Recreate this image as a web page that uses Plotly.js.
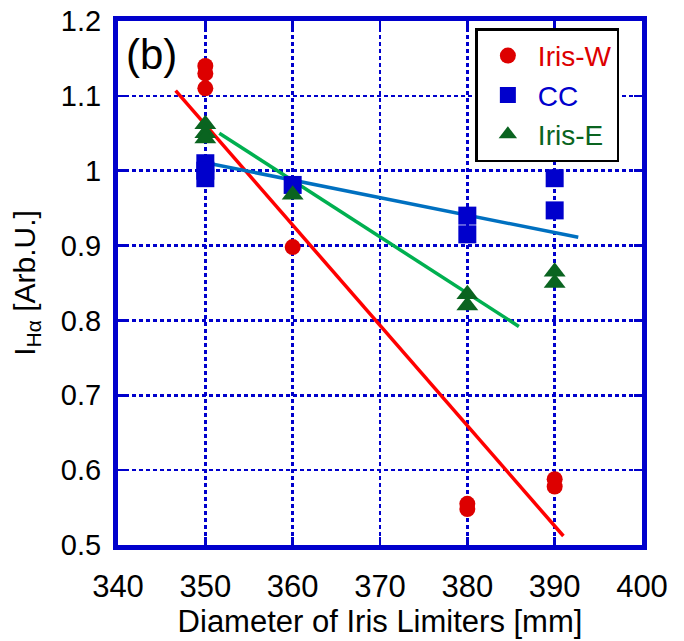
<!DOCTYPE html>
<html><head><meta charset="utf-8">
<script src="https://cdn.plot.ly/plotly-3.0.1.min.js"></script>
<style>body{margin:0;background:#fff}#c{width:684px;height:641px}</style>
</head><body><div id="c"></div>
<script>
// Data
const irisWx = [350, 350, 350, 360, 380, 380, 390, 390];
const irisWy = [1.14, 1.13, 1.11, 0.898, 0.555, 0.548, 0.588, 0.578];
const ccX = [350, 350, 350, 360, 380, 380, 390, 390];
const ccY = [1.01, 1.0, 0.99, 0.981, 0.94, 0.915, 0.99, 0.947];
const irisEx = [350, 350, 350, 360, 380, 380, 390, 390];
const irisEy = [1.062, 1.05, 1.043, 0.968, 0.835, 0.82, 0.865, 0.85];
// fit lines (endpoints)
const fitWx = [346.6, 391.0], fitWy = [1.107, 0.512];
const fitCx = [349.9, 392.7], fitCy = [1.011, 0.911];
const fitEx = [351.6, 385.9], fitEy = [1.05, 0.792];
const xTicks = [340, 350, 360, 370, 380, 390, 400];
const yTicks = [0.5, 0.6, 0.7, 0.8, 0.9, 1, 1.1, 1.2];
const yTickText = ['0.5', '0.6', '0.7', '0.8', '0.9', '1', '1.1', '1.2'];

const red = '#dd0000', blue = '#0000cc', green = '#0a6420';
const font = 'Liberation Sans, Arial, sans-serif';

const traces = [
  {x: fitWx, y: fitWy, mode: 'lines', line: {color: '#ff0000', width: 3.5}, showlegend: false, hoverinfo: 'skip'},
  {x: fitCx, y: fitCy, mode: 'lines', line: {color: '#0070c0', width: 3.5}, showlegend: false, hoverinfo: 'skip'},
  {x: fitEx, y: fitEy, mode: 'lines', line: {color: '#00b050', width: 3.5}, showlegend: false, hoverinfo: 'skip'},
  {x: irisWx, y: irisWy, mode: 'markers', name: '<span style="color:' + red + '">Iris-W</span>',
   marker: {symbol: 'circle', size: 16, color: red}},
  {x: ccX, y: ccY, mode: 'markers', name: '<span style="color:' + blue + '">CC</span>',
   marker: {symbol: 'square', size: 18, color: blue}},
  {x: irisEx, y: irisEy, mode: 'markers', name: '<span style="color:' + green + '">Iris-E</span>',
   marker: {symbol: 'triangle-up', size: 19, color: green}}
];

const axisCommon = {
  showline: true, linecolor: blue, linewidth: 5, mirror: 'ticks',
  showgrid: true, gridcolor: blue, gridwidth: 2.5, griddash: '4px,3px',
  ticks: 'inside', ticklen: 8, tickwidth: 2.5, tickcolor: blue,
  zeroline: false, automargin: false
};

const layout = {
  width: 684, height: 641,
  margin: {l: 117.5, r: 42, t: 20.5, b: 95.5},
  paper_bgcolor: '#fff', plot_bgcolor: '#fff',
  font: {family: font, color: '#000'},
  xaxis: Object.assign({}, axisCommon, {
    range: [340, 400], tickvals: xTicks,
    tickfont: {family: font, size: 31, color: '#000'}, ticklabelstandoff: 10,
    title: {text: 'Diameter of Iris Limiters [mm]', font: {family: font, size: 31}, standoff: 6}
  }),
  yaxis: Object.assign({}, axisCommon, {
    range: [0.5, 1.2], tickvals: yTicks, ticktext: yTickText,
    tickfont: {family: font, size: 29, color: '#000'}, ticklabelstandoff: 6,
    title: {text: 'I<sub>Hα</sub> [Arb.U.]', font: {family: font, size: 30}, standoff: 18}
  }),
  legend: {x: 0.682, y: 0.986, xanchor: 'left', yanchor: 'top',
    bgcolor: '#fff', bordercolor: '#000', borderwidth: 2.5,
    font: {family: font, size: 28}, itemwidth: 50, tracegroupgap: 0},
  annotations: [{text: '(b)', x: 0.012, y: 0.985, xref: 'paper', yref: 'paper',
    xanchor: 'left', yanchor: 'top', showarrow: false, font: {family: font, size: 42, color: '#000'}}],
  showlegend: true
};

Plotly.newPlot('c', traces, layout, {displayModeBar: false, staticPlot: true});
</script></body></html>
